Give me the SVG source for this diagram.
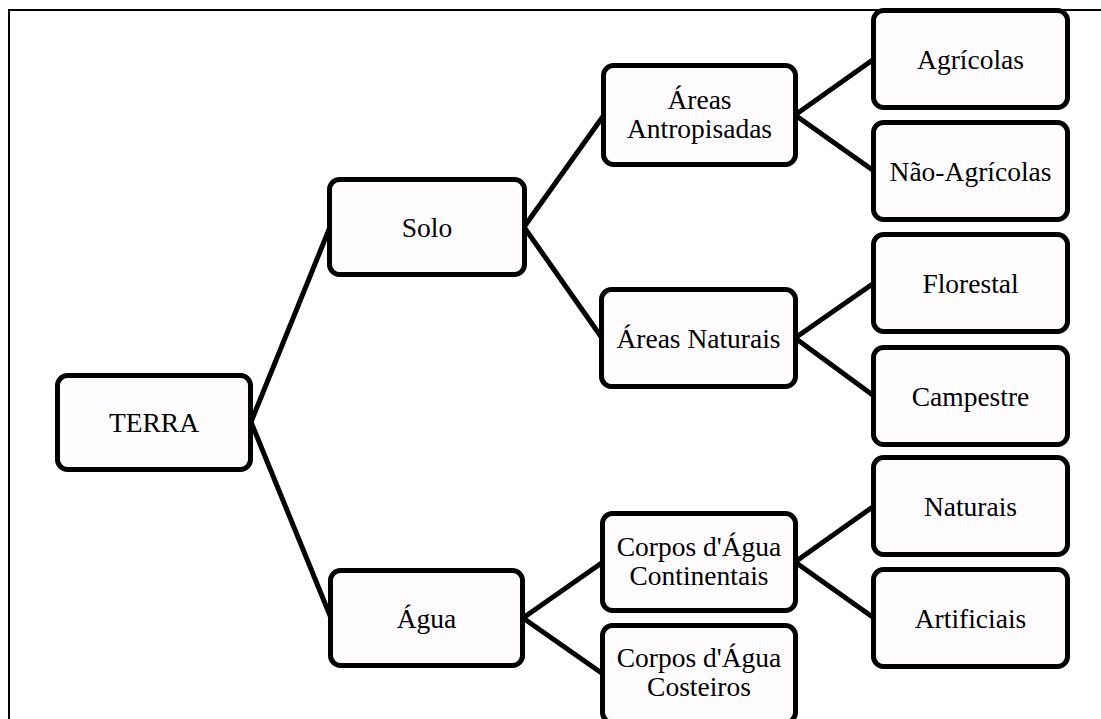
<svg xmlns="http://www.w3.org/2000/svg" width="1101" height="719" viewBox="0 0 1101 719">
<style>
.n rect{fill:#fefcfe;stroke:#000;stroke-width:5}
.n text{font-family:"Liberation Serif","Times New Roman",serif;font-size:27.5px;fill:#000;text-anchor:middle}
#connectors line{stroke:#000;stroke-width:5;stroke-linecap:butt}
</style>
<rect x="0" y="0" width="1101" height="719" fill="#fff"/>
<path d="M9,719 V10 H1101" fill="none" stroke="#000" stroke-width="2"/>
<g id="connectors">
<line x1="251" y1="422" x2="330" y2="227"/>
<line x1="251" y1="422" x2="331" y2="618"/>
<line x1="524" y1="227" x2="604" y2="115"/>
<line x1="524" y1="227" x2="602" y2="338"/>
<line x1="523" y1="618" x2="603" y2="562"/>
<line x1="523" y1="618" x2="603" y2="674"/>
<line x1="795" y1="115" x2="874" y2="59"/>
<line x1="795" y1="115" x2="874" y2="171"/>
<line x1="795" y1="338" x2="874" y2="283"/>
<line x1="795" y1="338" x2="874" y2="396"/>
<line x1="795" y1="562" x2="874" y2="506"/>
<line x1="795" y1="562" x2="874" y2="618"/>
</g>
<g id="terra" class="n"><rect x="57.5" y="375.5" width="193" height="94" rx="10"/><text x="154" y="432">TERRA</text></g>
<g id="solo" class="n"><rect x="329.5" y="179.5" width="195" height="95" rx="10"/><text x="427" y="237">Solo</text></g>
<g id="agua" class="n"><rect x="330.5" y="570.5" width="192" height="95" rx="10"/><text x="426.5" y="628">Água</text></g>
<g id="areas-antropisadas" class="n"><rect x="603.5" y="65.5" width="192" height="99" rx="10"/><text x="699.5" y="109">Áreas</text><text x="699.5" y="138">Antropisadas</text></g>
<g id="areas-naturais" class="n"><rect x="601.5" y="289.5" width="194" height="97" rx="10"/><text x="698.5" y="348">Áreas Naturais</text></g>
<g id="corpos-continentais" class="n"><rect x="602.5" y="513.5" width="193" height="97" rx="10"/><text x="699" y="556">Corpos d'Água</text><text x="699" y="585">Continentais</text></g>
<g id="corpos-costeiros" class="n"><rect x="602.5" y="625.5" width="193" height="97" rx="10"/><text x="699" y="667">Corpos d'Água</text><text x="699" y="696">Costeiros</text></g>
<g id="agricolas" class="n"><rect x="873.5" y="10.5" width="194" height="97" rx="10"/><text x="970.5" y="69">Agrícolas</text></g>
<g id="nao-agricolas" class="n"><rect x="873.5" y="122.5" width="194" height="97" rx="10"/><text x="970.5" y="181">Não-Agrícolas</text></g>
<g id="florestal" class="n"><rect x="873.5" y="234.5" width="194" height="97" rx="10"/><text x="970.5" y="293">Florestal</text></g>
<g id="campestre" class="n"><rect x="873.5" y="347.5" width="194" height="97" rx="10"/><text x="970.5" y="406">Campestre</text></g>
<g id="naturais" class="n"><rect x="873.5" y="457.5" width="194" height="97" rx="10"/><text x="970.5" y="516">Naturais</text></g>
<g id="artificiais" class="n"><rect x="873.5" y="569.5" width="194" height="97" rx="10"/><text x="970.5" y="628">Artificiais</text></g>
</svg>
